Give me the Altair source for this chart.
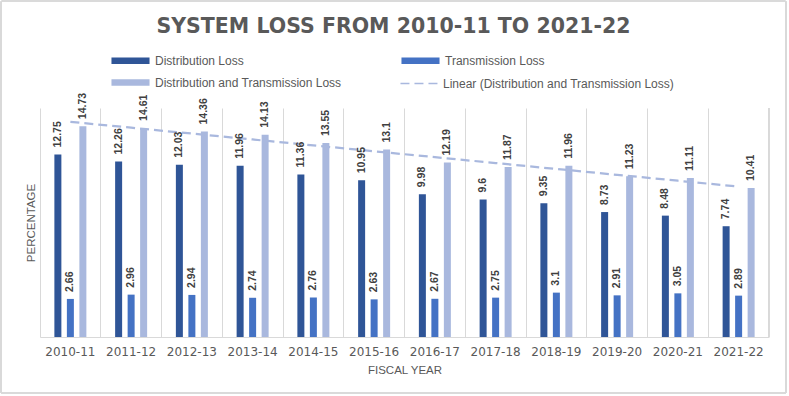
import altair as alt
import pandas as pd
import numpy as np

years = ["2010-11", "2011-12", "2012-13", "2013-14", "2014-15", "2015-16",
         "2016-17", "2017-18", "2018-19", "2019-20", "2020-21", "2021-22"]
distribution = [12.75, 12.26, 12.03, 11.96, 11.36, 10.95, 9.98, 9.6, 9.35, 8.73, 8.48, 7.74]
transmission = [2.66, 2.96, 2.94, 2.74, 2.76, 2.63, 2.67, 2.75, 3.1, 2.91, 3.05, 2.89]
dist_trans = [14.73, 14.61, 14.36, 14.13, 13.55, 13.1, 12.19, 11.87, 11.96, 11.23, 11.11, 10.41]

series_names = ["Distribution Loss", "Transmission Loss", "Distribution and Transmission Loss"]
series_colors = ["#2F5597", "#4472C4", "#A9B8DE"]
trend_name = "Linear (Distribution and Transmission Loss)"
# legend entries fill column by column: (DL, D&T) in column 1, TL in column 2
legend_order = [series_names[0], series_names[2], series_names[1]]

rows = []
for name, vals in zip(series_names, [distribution, transmission, dist_trans]):
    for y, v in zip(years, vals):
        rows.append({"year": y, "series": name, "value": v, "label": str(v)})
df = pd.DataFrame(rows)

# Linear trendline (least squares) of the combined loss
idx = np.arange(len(years))
slope, intercept = np.polyfit(idx, dist_trans, 1)
trend_df = pd.DataFrame({"year": years, "trend": slope * idx + intercept, "tname": trend_name})

W, H = 729, 229
GREY = "#595959"
GRID = "#D9D9D9"

x_enc = alt.X("year:N", sort=years,
              scale=alt.Scale(paddingInner=0, paddingOuter=0),
              axis=alt.Axis(title="FISCAL YEAR", labelAngle=0, ticks=False,
                            domainColor=GRID, grid=True, gridColor=GRID,
                            bandPosition=0, labelFont="DejaVu Sans", labelFontSize=12,
                            labelColor=GREY, labelPadding=9,
                            titleFont="Liberation Sans", titleFontSize=11.5,
                            titleFontWeight="normal", titleColor=GREY, titlePadding=7))
xo_scale = alt.Scale(paddingInner=0.14, paddingOuter=1)
y_enc = alt.Y("value:Q", scale=alt.Scale(domain=[0, 16], nice=False),
              axis=alt.Axis(title="PERCENTAGE", labels=False, ticks=False, domain=False,
                            grid=False, titleFont="Liberation Sans", titleFontSize=11.5,
                            titleFontWeight="normal", titleColor=GREY, titlePadding=4))

bars = alt.Chart(df).mark_bar(width=7).encode(
    x=x_enc,
    xOffset=alt.XOffset("series:N", sort=series_names, scale=xo_scale),
    y=y_enc,
    color=alt.Color("series:N", sort=series_names,
                    scale=alt.Scale(domain=series_names, range=series_colors),
                    legend=alt.Legend(title=None, orient="none", legendX=84, legendY=-54,
                                      values=legend_order,
                                      columns=2, columnPadding=59, rowPadding=9,
                                      symbolType="M-3,-0.5H3V0.5H-3Z", symbolSize=161,
                                      symbolStrokeWidth=0, symbolOffset=0,
                                      labelOffset=18, labelFont="Liberation Sans",
                                      labelFontSize=12, labelColor=GREY, labelLimit=400)),
)

labels = alt.Chart(df).mark_text(angle=270, align="left", baseline="middle", dx=7,
                                 font="Liberation Sans", fontSize=10.5,
                                 fontWeight="bold", color="#404040").encode(
    x=alt.X("year:N", sort=years),
    xOffset=alt.XOffset("series:N", sort=series_names, scale=xo_scale),
    y="value:Q",
    text="label:N",
)

trend = alt.Chart(trend_df).mark_line(color="#A9B8DE", strokeWidth=2.25).encode(
    x=alt.X("year:N", sort=years),
    y=alt.Y("trend:Q"),
    strokeDash=alt.StrokeDash("tname:N",
                              scale=alt.Scale(domain=[trend_name], range=[[9, 5]]),
                              legend=alt.Legend(title=None, orient="none", legendX=372, legendY=-32,
                                                symbolType="M-3,0H3", symbolSize=161,
                                                symbolStrokeWidth=1.5, symbolStrokeColor="#A9B8DE",
                                                symbolDash=[4, 3],
                                                labelOffset=16, labelFont="Liberation Sans",
                                                labelFontSize=12, labelColor=GREY, labelLimit=400)),
)

right_edge = alt.Chart(trend_df).mark_rule(color=GRID, strokeWidth=1).encode(
    x=alt.value(W), y=alt.value(0), y2=alt.value(H)
)

border = alt.Chart(trend_df).mark_rect(fill=None, stroke=GRID, strokeWidth=1.2,
                                       cornerRadius=2).encode(
    x=alt.value(-39), x2=alt.value(W + 17), y=alt.value(-107), y2=alt.value(H + 56)
)

chart = alt.layer(border, right_edge, bars, trend, labels).resolve_scale(
    strokeDash="independent"
).properties(
    width=W, height=H,
    title=alt.TitleParams("SYSTEM LOSS FROM 2010-11 TO 2021-22", font="DejaVu Sans",
                          fontSize=20.5, fontWeight="bold", color=GREY, anchor="middle",
                          frame="group", dx=-11, offset=-37),
    autosize=alt.AutoSizeParams(type="none"),
    padding={"left": 40, "top": 108, "right": 20, "bottom": 59},
    background="white",
).configure_view(stroke=None)

chart.save("out.html", embed_options={"renderer": "svg", "actions": False})
